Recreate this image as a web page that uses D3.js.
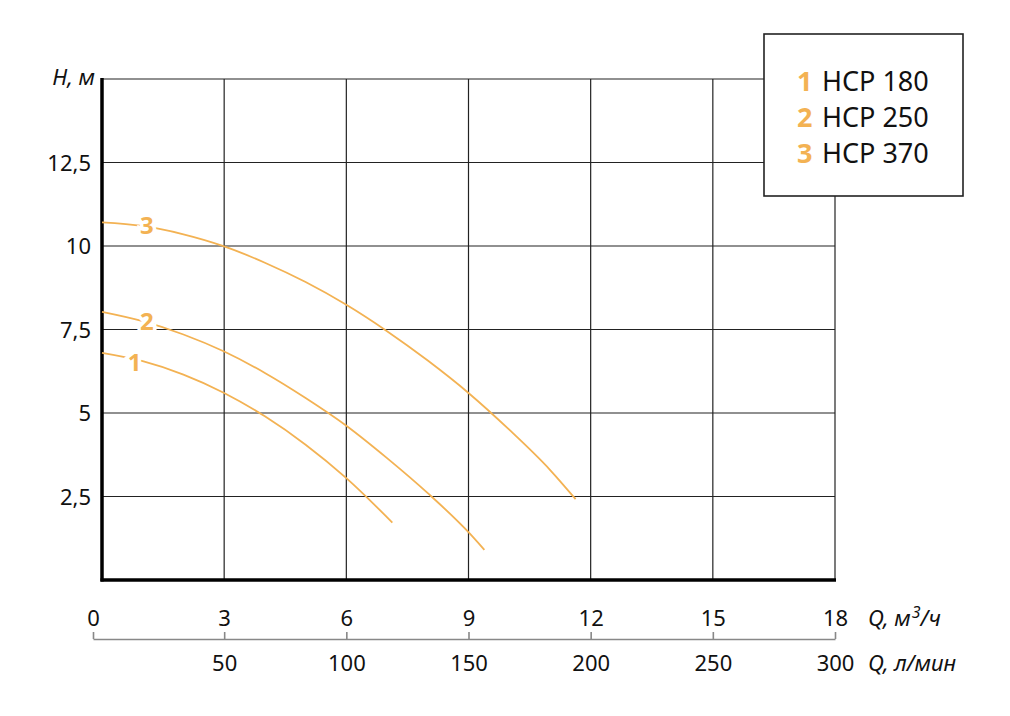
<!DOCTYPE html>
<html>
<head>
<meta charset="utf-8">
<script src="https://cdn.jsdelivr.net/npm/d3@7"></script>
<style>
  body { margin: 0; background: #fff; }
  svg { font-family: "Noto Sans", sans-serif; }
</style>
</head>
<body>
<div id="chart"></div>
<script>
// flow in m3/h, head in m
const flow180 = [0, 1, 2, 3, 4, 5, 6, 7.13];
const head180 = [6.8, 6.55, 6.15, 5.6, 4.9, 4.05, 3.05, 1.72];
const flow250 = [0, 1, 2, 3, 4, 5, 6, 7, 8, 9, 9.39];
const head250 = [8.03, 7.75, 7.35, 6.84, 6.2, 5.45, 4.62, 3.65, 2.6, 1.43, 0.9];
const flow370 = [0, 1, 2, 3, 4, 5, 6, 7, 8, 9, 10, 11, 11.63];
const head370 = [10.71, 10.6, 10.35, 9.99, 9.5, 8.92, 8.24, 7.45, 6.57, 5.6, 4.5, 3.3, 2.42];

const seriesNames = ["HCP 180", "HCP 250", "HCP 370"];
const seriesNums = ["1", "2", "3"];
// where the number sits on each curve (flow, head)
const labelFlow = [0.8, 1.1, 1.1];
const labelHead = [6.5, 7.75, 10.6];

const flowTicks = [0, 3, 6, 9, 12, 15, 18];
const litreTicks = [50, 100, 150, 200, 250, 300];
const headTicks = [2.5, 5, 7.5, 10, 12.5];

const orange = "#f3b253";
const width = 1010, height = 716;
const plotLeft = 102, plotRight = 835, plotTop = 79, plotBottom = 580;
const fs = 22;

const svg = d3.select("#chart").append("svg")
  .attr("width", width).attr("height", height);

const x = d3.scaleLinear().domain([0, 18]).range([plotLeft, plotRight]);
const y = d3.scaleLinear().domain([0, 15]).range([plotBottom, plotTop]);

// grid
const grid = svg.append("g").attr("stroke", "#222").attr("stroke-width", 1.2);
grid.selectAll("line.v").data(flowTicks.slice(1)).join("line")
  .attr("class", "v")
  .attr("x1", d => x(d)).attr("x2", d => x(d))
  .attr("y1", plotTop).attr("y2", plotBottom);
grid.selectAll("line.h").data(headTicks.concat([15])).join("line")
  .attr("class", "h")
  .attr("x1", plotLeft).attr("x2", plotRight)
  .attr("y1", d => y(d)).attr("y2", d => y(d));

// heavy axes
svg.append("line").attr("x1", plotLeft).attr("x2", plotLeft)
  .attr("y1", plotTop - 1).attr("y2", plotBottom + 1.5)
  .attr("stroke", "#000").attr("stroke-width", 3.5);
svg.append("line").attr("x1", plotLeft - 1.5).attr("x2", plotRight + 1)
  .attr("y1", plotBottom).attr("y2", plotBottom)
  .attr("stroke", "#000").attr("stroke-width", 3.5);

// y labels
svg.append("g").selectAll("text").data(headTicks).join("text")
  .attr("x", 91).attr("y", d => y(d) + 8)
  .attr("text-anchor", "end").attr("font-size", fs).attr("fill", "#111")
  .text(d => String(d).replace(".", ","));
svg.append("text").attr("x", 95).attr("y", 85)
  .attr("text-anchor", "end").attr("font-size", fs).attr("font-style", "italic").attr("fill", "#111")
  .text("H, м");

// curves
const line = d3.line().x(d => x(d[0])).y(d => y(d[1])).curve(d3.curveMonotoneX);
const curves = [
  d3.zip(flow180, head180),
  d3.zip(flow250, head250),
  d3.zip(flow370, head370)
];
svg.append("g").selectAll("path").data(curves).join("path")
  .attr("d", line).attr("fill", "none")
  .attr("stroke", orange).attr("stroke-width", 1.8);

svg.append("g").selectAll("text").data(seriesNums).join("text")
  .attr("x", (d, i) => x(labelFlow[i])).attr("y", (d, i) => y(labelHead[i]) + 8.5)
  .attr("text-anchor", "middle").attr("font-size", 24).attr("font-weight", 700)
  .attr("fill", orange).attr("stroke", "#fff").attr("stroke-width", 7)
  .attr("paint-order", "stroke")
  .text(d => d);

// flow axes below the chart
const axisY = 639;
const xq = d3.scaleLinear().domain([0, 3, 18]).range([93, x(3), x(18)]);
const qAxis = svg.append("g").attr("transform", `translate(0,${axisY})`)
  .call(d3.axisTop(xq).tickValues(flowTicks).tickSize(7).tickSizeOuter(0).tickPadding(6));
qAxis.select(".domain").attr("stroke", "#888").attr("stroke-width", 1.6);
qAxis.selectAll(".tick line").attr("stroke", "#888").attr("stroke-width", 1.6);
qAxis.selectAll("text").attr("font-size", fs).attr("fill", "#111")
  .attr("font-family", "Noto Sans, sans-serif");

const xl = d3.scaleLinear().domain([0, 300]).range([x(0), x(18)]);
const lAxis = svg.append("g").attr("transform", `translate(0,${axisY})`)
  .call(d3.axisBottom(xl).tickValues(litreTicks).tickSize(0).tickPadding(16));
lAxis.select(".domain").remove();
lAxis.selectAll("text").attr("font-size", fs).attr("fill", "#111")
  .attr("font-family", "Noto Sans, sans-serif");

const qLabel = svg.append("text").attr("x", 868).attr("y", 626)
  .attr("font-size", fs).attr("font-style", "italic").attr("fill", "#111");
qLabel.append("tspan").text("Q, м");
qLabel.append("tspan").attr("font-size", 16).attr("dy", -8).attr("dx", 1).text("3");
qLabel.append("tspan").attr("dy", 8).text("/ч");
svg.append("text").attr("x", 868).attr("y", 671)
  .attr("font-size", fs).attr("font-style", "italic").attr("fill", "#111")
  .text("Q, л/мин");

// legend
const legend = svg.append("g").attr("transform", "translate(764,34)");
legend.append("rect").attr("width", 199).attr("height", 162)
  .attr("fill", "#fff").attr("stroke", "#222").attr("stroke-width", 1.6);
const rows = legend.selectAll("g.row").data(seriesNames).join("g")
  .attr("class", "row")
  .attr("transform", (d, i) => `translate(0,${57 + i * 36})`);
rows.append("text").attr("x", 33).attr("font-size", 27).attr("font-weight", 700)
  .attr("fill", orange).text((d, i) => seriesNums[i]);
rows.append("text").attr("x", 58).attr("font-size", 27).attr("fill", "#111").text(d => d);
</script>
</body>
</html>
